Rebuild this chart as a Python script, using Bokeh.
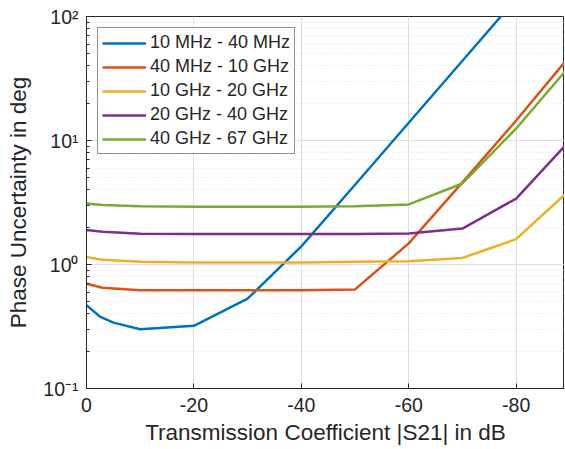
from bokeh.plotting import figure
from bokeh.models import Range1d, FixedTicker, Legend, LegendItem, CustomJSTickFormatter
from bokeh.embed import file_html
from bokeh.resources import INLINE

# Data
x_blue = [0, -2.5, -5, -10, -20, -30, -40, -50, -60, -70, -80]
y_blue = [0.47, 0.38, 0.34, 0.30, 0.32, 0.53, 1.4, 4.4, 13.9, 44, 139]

x_orange = [0, -3, -10, -20, -30, -40, -50, -60, -70, -80, -90]
y_orange = [0.70, 0.65, 0.62, 0.62, 0.62, 0.62, 0.63, 1.48, 4.6, 14.5, 48]

x_yellow = [0, -3, -10, -20, -30, -40, -50, -60, -70, -80, -90]
y_yellow = [1.15, 1.09, 1.05, 1.04, 1.04, 1.04, 1.05, 1.06, 1.13, 1.6, 4.0]

x_purple = [0, -3, -10, -20, -30, -40, -50, -60, -70, -80, -90]
y_purple = [1.9, 1.84, 1.77, 1.76, 1.76, 1.76, 1.76, 1.78, 1.95, 3.4, 10]

x_green = [0, -3, -10, -20, -30, -40, -50, -60, -70, -80, -90]
y_green = [3.1, 3.02, 2.95, 2.92, 2.92, 2.92, 2.95, 3.05, 4.5, 12.5, 40]

labels = ["10 MHz - 40 MHz", "40 MHz - 10 GHz", "10 GHz - 20 GHz",
          "20 GHz - 40 GHz", "40 GHz - 67 GHz"]
colors = ["#0072BD", "#D95319", "#EDB120", "#7E2F8E", "#77AC30"]

x_ticks = [0, -20, -40, -60, -80]
y_ticks = [0.1, 1, 10, 100]
y_minor = [m * d for d in [0.1, 1, 10] for m in range(2, 10)]

FONT = "Liberation Sans"
TXT = "#262626"

p = figure(width=564, height=448, y_axis_type="log",
           x_range=Range1d(0, -89), y_range=Range1d(0.1, 100),
           output_backend="svg", toolbar_location=None,
           min_border_left=86, min_border_right=0, min_border_top=16, min_border_bottom=60)

p.outline_line_color = "#262626"
p.outline_line_width = 1
p.background_fill_color = "white"
p.border_fill_color = "white"

# Axes
xa = p.xaxis[0]
xa.ticker = FixedTicker(ticks=x_ticks)
xa.formatter = CustomJSTickFormatter(code="return String(Math.round(tick));")
xa.axis_label = "Transmission Coefficient |S21| in dB"
ya = p.yaxis[0]
ya.ticker = FixedTicker(ticks=y_ticks, minor_ticks=y_minor)
ya.axis_label = "Phase Uncertainty in deg"
ya.formatter = CustomJSTickFormatter(code="""
const e = Math.round(Math.log10(tick));
const sup = {"-":"\u207b","0":"\u2070","1":"\u00b9","2":"\u00b2","3":"\u00b3"};
return "10" + String(e).split("").map(c => sup[c]).join("");
""")

for ax in (xa, ya):
    ax.axis_line_color = "#262626"
    ax.major_tick_line_color = "#262626"
    ax.minor_tick_line_color = "#262626"
    ax.major_tick_out = 0
    ax.major_tick_in = 5
    ax.minor_tick_out = 0
    ax.minor_tick_in = 3
    ax.major_label_text_font = FONT
    ax.major_label_text_font_size = "19.5px"
    ax.major_label_text_color = TXT
    ax.axis_label_text_font = FONT
    ax.axis_label_text_font_size = "22.5px"
    ax.axis_label_text_font_style = "normal"
    ax.axis_label_text_color = TXT
xa.minor_tick_line_color = None
xa.major_label_standoff = 9
xa.axis_label_standoff = 5
ya.major_label_standoff = 8
ya.axis_label_standoff = 9

# Grid
p.xgrid.grid_line_color = "#dedede"
p.ygrid.grid_line_color = "#dedede"
p.ygrid.minor_grid_line_color = "#e4e4e4"
p.ygrid.minor_grid_line_dash = "1 2"

# Lines
series = [(x_blue, y_blue), (x_orange, y_orange), (x_yellow, y_yellow),
          (x_purple, y_purple), (x_green, y_green)]
renderers = []
for (xs, ys), c in zip(series, colors):
    r = p.line(xs, ys, line_color=c, line_width=2.5)
    renderers.append(r)

legend = Legend(items=[LegendItem(label=l, renderers=[r]) for l, r in zip(labels, renderers)],
                location="top_left")
legend.margin = 11
legend.padding = 4
legend.spacing = 3
legend.glyph_width = 44
legend.glyph_height = 20
legend.label_height = 20
legend.label_standoff = 4
legend.label_text_font = FONT
legend.label_text_font_size = "18px"
legend.label_text_color = TXT
legend.border_line_color = "#262626"
legend.border_line_width = 1
legend.background_fill_color = "white"
legend.background_fill_alpha = 1
p.add_layout(legend)

open("out.html", "w").write(file_html(p, INLINE))
